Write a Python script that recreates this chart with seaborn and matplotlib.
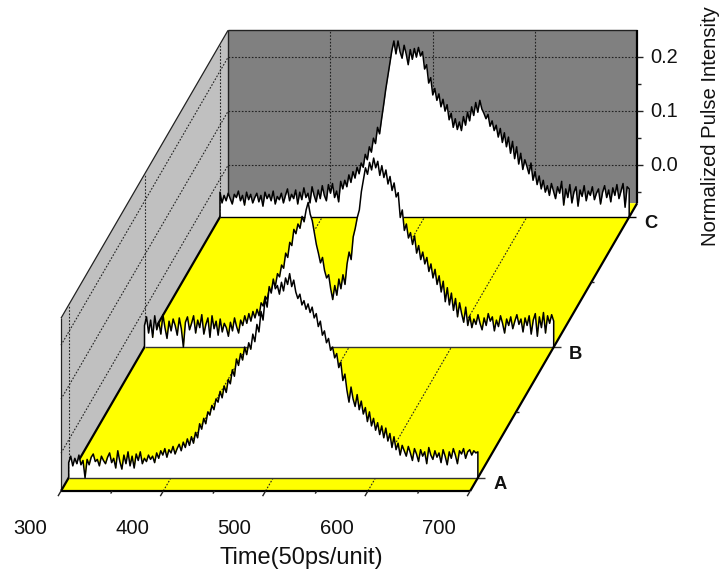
import numpy as np
import seaborn as sns
import matplotlib.pyplot as plt

# pulse intensity, in 1/1000 units, one value every 2 time units from 300 to 700
pulse_a = [-42,-30,-48,-34,-44,-28,-46,-38,-70,-36,
    -46,-32,-26,-40,-36,-48,-30,-38,-44,-32,
    -24,-42,-34,-52,-20,-40,-54,-28,-44,-22,
    -48,-30,-52,-26,-38,-22,-44,-34,-40,-28,
    -36,-30,-42,-24,-34,-20,-28,-16,-32,-18,
    -24,-12,-26,-16,-8,-20,-4,-14,2,-10,
    6,-6,14,4,30,20,40,30,52,46,
    64,56,76,70,90,78,100,88,112,104,
    130,118,150,138,160,148,172,158,180,168,
    196,182,214,200,238,222,262,246,284,272,
    298,280,286,270,292,276,300,288,308,284,
    296,274,262,270,250,258,242,252,236,246,
    226,234,210,220,194,202,180,188,166,172,
    152,160,134,144,110,122,92,70,98,76,
    62,84,56,72,48,60,34,52,26,40,
    18,32,10,26,4,22,-2,12,-14,6,
    -18,-6,-28,-10,-20,-30,-12,-24,-38,-16,
    -26,-40,-18,-30,-22,-44,-14,-28,-36,-20,
    -32,-24,-42,-18,-30,-46,-22,-34,-16,-28,
    -44,-20,-26,-16,-34,-22,-18,-28,-20,-24,-22]
pulse_b = [-30,-14,-44,-20,-52,-12,-38,-24,-46,-10,
    -34,-54,-22,-40,-18,-30,-48,-16,-36,-70,
    -24,-14,-38,-26,-12,-44,-20,-34,-10,-46,
    -28,-16,-52,-12,-36,-22,-48,-18,-42,-26,
    -34,-50,-24,-40,-16,-32,-44,-20,-30,-12,
    -26,-8,-22,-4,-16,0,-12,12,6,24,
    18,38,32,50,44,66,60,82,76,104,
    96,124,118,148,140,158,150,172,162,184,
    198,176,164,142,120,104,86,96,72,58,
    64,38,18,44,26,56,38,64,46,84,
    106,92,134,150,170,184,218,240,262,250,
    272,258,280,262,274,248,266,244,258,232,
    246,220,234,208,216,170,184,146,158,132,
    142,120,136,104,118,92,106,84,96,70,
    84,58,74,46,62,32,52,14,40,8,
    30,-2,20,-14,12,-8,-24,4,-30,-12,
    -34,-18,-28,-10,-26,-38,-16,-30,-8,-22,
    -14,-40,-20,-32,-12,-26,-44,-18,-30,-14,
    -36,-22,-10,-28,-18,-42,-16,-30,-12,-46,
    -20,-8,-50,-14,-34,-6,-44,-12,-26,-10,-22]
pulse_c = [-24,-44,-30,-40,-26,-36,-46,-28,-34,-22,
    -40,-30,-48,-24,-38,-28,-44,-34,-26,-42,
    -30,-50,-24,-36,-28,-40,-22,-46,-32,-38,
    -26,-44,-30,-18,-40,-28,-36,-20,-46,-24,
    -38,-16,-34,-26,-44,-14,-30,-42,-20,-36,
    -12,-30,-40,-10,-26,-8,-34,-22,-42,-4,
    -18,-2,-14,8,-6,14,2,22,10,30,
    22,46,36,60,50,76,66,96,84,112,
    138,166,190,214,238,256,232,256,236,224,
    248,232,212,240,222,242,226,244,228,236,
    204,212,178,188,156,168,146,158,134,148,
    126,138,110,122,96,112,92,106,90,116,
    100,124,108,134,118,142,124,146,130,122,
    112,120,98,108,90,100,78,94,68,86,
    60,78,48,70,38,60,28,48,18,36,
    24,10,30,-2,14,-10,6,-18,-2,-24,
    -12,-30,-8,-22,-36,-14,-26,-4,-48,-18,
    -34,-10,-44,-24,-14,-50,-20,-32,-12,-40,
    -22,-30,-14,-38,-26,-18,-46,-24,-12,-34,
    -20,-42,-16,-30,-10,-36,-22,-8,-52,-14,-18]

series_names = ['C', 'B', 'A']
series_depths = [0.952, 0.5, 0.046]
series_pulses = [pulse_c, pulse_b, pulse_a]
x_ticks = [300, 400, 500, 600, 700]
x_minor = [350, 450, 550, 650]
y_ticks = [0.0, 0.1, 0.2]
y_minor = [-0.05, 0.05, 0.15]
depth_minor = [0.273, 0.726]

T0, T1 = 300, 700
V0, V1 = -0.07, 0.25
PX_T = 1.023
PX_V = 540
# oblique shift of the whole depth axis, in time and intensity units
SHIFT_T = 167 / PX_T
SHIFT_V = 0.533

sns.set_theme(style='white')
plt.rcParams['font.family'] = ['Liberation Sans', 'DejaVu Sans']

fig = plt.figure(figsize=(7.19, 5.71), dpi=100)
ax = fig.add_axes([0, 0, 1, 1])
ax.set_xlim(T0 - 61 / PX_T, T0 + (719 - 61) / PX_T)
ax.set_ylim(V0 - 80 / PX_V, V0 + 491 / PX_V)
ax.set_axis_off()


def proj(t, v, d):
    return np.asarray(t, dtype=float) + d * SHIFT_T, np.asarray(v, dtype=float) + d * SHIFT_V


def seg(t, v, d, **kw):
    x, y = proj(t, v, d)
    ax.plot(x, y, solid_capstyle='butt', **kw)


# walls and floor
x, y = proj([T0, T0, T0, T0], [V0, V1, V1, V0], np.array([0, 0, 1, 1]))
ax.fill(x, y, color='#c0c0c0', lw=0, zorder=1)
x, y = proj([T0, T1, T1, T0], [V0, V0, V1, V1], 1)
ax.fill(x, y, color='#808080', lw=0, zorder=1)
x, y = proj([T0, T1, T1, T0], [V0, V0, V0, V0], np.array([0, 0, 1, 1]))
ax.fill(x, y, color='#ffff00', lw=0, zorder=2)

# grid
grid = dict(color='#222222', lw=0.8, ls=(0, (1.5, 1.5)))
for v in y_ticks:
    seg([T0, T1], [v, v], 1, zorder=1.5, **grid)
    seg([T0, T0], [v, v], np.array([0, 1]), zorder=1.5, **grid)
for t in x_ticks[1:-1]:
    seg([t, t], [V0, V1], 1, zorder=1.5, **grid)
    seg([t, t], [V0, V0], np.array([0, 1]), zorder=2.5, **grid)
for d in series_depths:
    seg([T0, T0], [V0, V1], d, zorder=1.5, **grid)

# frame
edge = '#222222'
seg([T0, T0], [V0, V1], 0, color=edge, lw=0.9, zorder=3)
seg([T0, T0], [V1, V1], np.array([0, 1]), color=edge, lw=0.9, zorder=3)
seg([T0, T0], [V0, V1], 1, color=edge, lw=1.0, zorder=1.6)
seg([T0, T1], [V1, V1], 1, color=edge, lw=1.0, zorder=3)
seg([T0, T1], [V0, V0], 0, color='black', lw=1.6, zorder=3)
seg([T0, T0], [V0, V0], np.array([0, 1]), color='black', lw=1.6, zorder=3)
seg([T1, T1], [V0, V0], np.array([0, 1]), color='black', lw=1.6, zorder=8)
seg([T1, T1], [V0, V1], 1, color='black', lw=1.6, zorder=3)

# ticks
for t in x_ticks:
    seg([t, t], [V0, V0], np.array([-0.018, 0]), color=edge, lw=1.0, zorder=3)
    x, y = proj(t - 30.5, V0 - 38 / PX_V, 0)
    ax.text(x, y, str(t), ha='center', va='center', fontsize=14.6, color='#111111', zorder=9)
for t in x_minor:
    seg([t, t], [V0, V0], np.array([-0.009, 0]), color=edge, lw=1.0, zorder=3)
for v in y_ticks:
    seg([T1, T1 + 6 / PX_T], [v, v], 1, color=edge, lw=1.0, zorder=3)
    x, y = proj(T1 + 13 / PX_T, v, 1)
    ax.text(x, y, f'{v:.1f}', ha='left', va='center', fontsize=14.4, color='#111111', zorder=9)
for v in y_minor:
    seg([T1, T1 + 3.5 / PX_T], [v, v], 1, color=edge, lw=1.0, zorder=3)
for d in depth_minor:
    seg([T1, T1 + 3 / PX_T], [V0, V0], d, color=edge, lw=1.0, zorder=8)

# one curve per depth, back to front, each one blanking what is behind it
time = T0 + 2 * np.arange(len(pulse_a))
for k, (name, d, pulse) in enumerate(zip(series_names, series_depths, series_pulses)):
    z = 4 + k
    x, y = proj(time, np.array(pulse) / 1000, d)
    base = V0 + d * SHIFT_V
    ax.fill_between(x, y, base, color='white', lw=0, zorder=z)
    xs = np.r_[x[0], x, x[-1]]
    ys = np.r_[base, y, base]
    sns.lineplot(x=xs, y=ys, ax=ax, color='black', lw=1.1, sort=False,
                 estimator=None, legend=False, zorder=z + 0.2)
    seg([T0, T1 + 7 / PX_T], [V0, V0], d, color='#333333' if name != 'C' else 'black',
        lw=1.0, zorder=z + 0.1)
    lx, ly = proj(T1 + 22 / PX_T, V0 - 7 / PX_V, d)
    ax.text(lx, ly, name, ha='center', va='center', fontsize=13.2, fontweight='bold',
            color='#111111', zorder=9)

x, y = proj(T0 + 240 / PX_T, V0 - 67 / PX_V, 0)
ax.text(x, y, 'Time(50ps/unit)', ha='center', va='center', fontsize=17, color='#111111', zorder=9)
x, y = proj(T1 + 240 / PX_T, V0 + 365 / PX_V, 0)
ax.text(x, y, 'Normalized Pulse Intensity', rotation=90, ha='center', va='center',
        fontsize=14.6, color='#111111', zorder=9)

fig.savefig('out.png', dpi=100)
